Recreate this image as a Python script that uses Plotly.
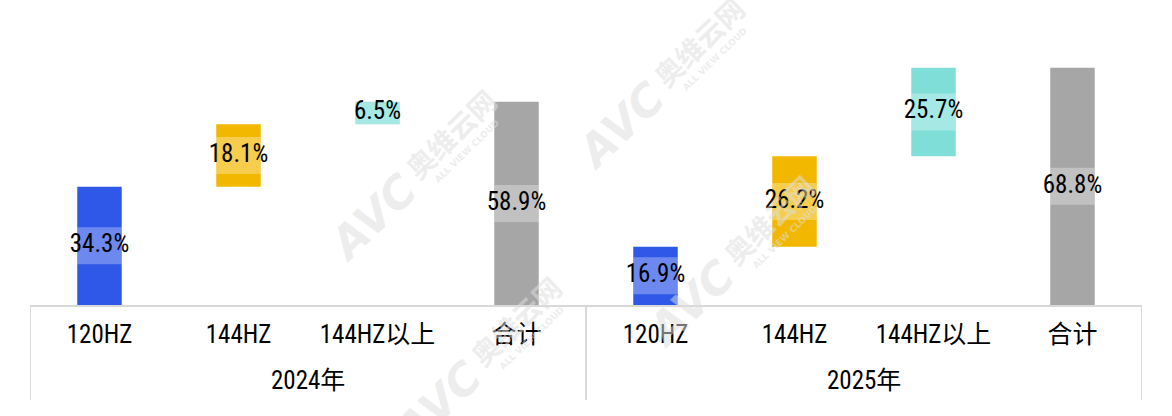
import plotly.graph_objects as go

# ---- data ----
groups = ["2024年", "2025年"]
categories = ["120HZ", "144HZ", "144HZ以上", "合计"]
values_2024 = [34.3, 18.1, 6.5, 58.9]
values_2025 = [16.9, 26.2, 25.7, 68.8]
bar_colors = ["#2F57E8", "#F2B800", "#7FDFD8", "#A6A6A6"]

FONT = "Liberation Sans Narrow, Roboto Condensed, Noto Sans CJK SC, sans-serif"

# ---- layout constants ----
W, H = 1172, 416
ML, MR, MT, MB = 30, 30, 29, 111
PW, PH = W - ML - MR, H - MT - MB
Y_MAX = 80
BOX_PX = 37  # label backdrop height in pixels
box_units = BOX_PX / PH * Y_MAX

xs, ys, bases, cols, texts = [], [], [], [], []
for g, vals in enumerate([values_2024, values_2025]):
    run = 0.0
    for k, v in enumerate(vals):
        xs.append(g * len(categories) + k)
        ys.append(v)
        cols.append(bar_colors[k])
        texts.append(f"{v}%")
        if k == len(vals) - 1:
            bases.append(0.0)
        else:
            bases.append(run)
            run += v

mids = [b + v / 2 for b, v in zip(bases, ys)]
box_h = [min(v, box_units) for v in ys]
box_base = [m - h / 2 for m, h in zip(mids, box_h)]

fig = go.Figure()
fig.add_trace(go.Bar(x=xs, y=ys, base=bases, width=0.32,
                     marker=dict(color=cols, line=dict(width=0)),
                     hoverinfo="skip", showlegend=False))
fig.add_trace(go.Bar(x=xs, y=box_h, base=box_base, width=0.32,
                     marker=dict(color="rgba(255,255,255,0.3)", line=dict(width=0)),
                     hoverinfo="skip", showlegend=False))
fig.add_trace(go.Scatter(x=xs, y=mids, mode="text", text=texts,
                         textfont=dict(family=FONT, size=25, color="#000000"),
                         cliponaxis=False, hoverinfo="skip", showlegend=False))

# group dividers
for xd in [-0.5, 3.5, 7.5]:
    fig.add_shape(type="line", xref="x", yref="paper", x0=xd, x1=xd,
                  y0=0, y1=-95 / PH, line=dict(color="#D9D9D9", width=2), layer="below")

annotations = []
for g, name in enumerate(groups):
    annotations.append(dict(x=g * len(categories) + 1.5, y=-(380 - (H - MB)) / PH,
                            xref="x", yref="paper", text=name, showarrow=False,
                            font=dict(family=FONT, size=25, color="#000000"),
                            xanchor="center", yanchor="middle"))

# watermarks
def px2paper(px, py):
    return (px - ML) / PW, ((H - MB) - py) / PH

wm_color = "rgba(222,222,222,0.55)"
for (ax, ay) in [(372, 217), (620, 125), (690, 303), (437, 404)]:
    for (dx, dy, txt, size) in [(0, 0, "<b><i>AVC</i></b>", 44),
                                (80, -82, "<b>奥维云网</b>", 28),
                                (95, -66, "<b>ALL VIEW CLOUD</b>", 9)]:
        px, py = px2paper(ax + dx, ay + dy)
        annotations.append(dict(x=px, y=py, xref="paper", yref="paper", text=txt,
                                showarrow=False, textangle=-44,
                                font=dict(family="DejaVu Sans, Noto Sans CJK SC", size=size, color=wm_color),
                                xanchor="center", yanchor="middle"))

fig.update_layout(
    width=W, height=H,
    margin=dict(l=ML, r=MR, t=MT, b=MB, pad=0),
    paper_bgcolor="white", plot_bgcolor="white",
    barmode="overlay",
    font=dict(family=FONT, size=25, color="#000000"),
    xaxis=dict(range=[-0.5, 7.5], tickmode="array", tickvals=list(range(8)),
               ticktext=categories * 2, showline=True, linecolor="#D9D9D9", linewidth=2,
               showgrid=False, zeroline=False, ticks="", ticklabelstandoff=6,
               tickfont=dict(family=FONT, size=25, color="#000000"), fixedrange=True),
    yaxis=dict(range=[0, Y_MAX], visible=False, fixedrange=True),
    annotations=annotations,
)

fig.write_html("out.html", config={"displayModeBar": False},
               post_script="document.body.style.margin='0';document.body.style.overflow='hidden';")
